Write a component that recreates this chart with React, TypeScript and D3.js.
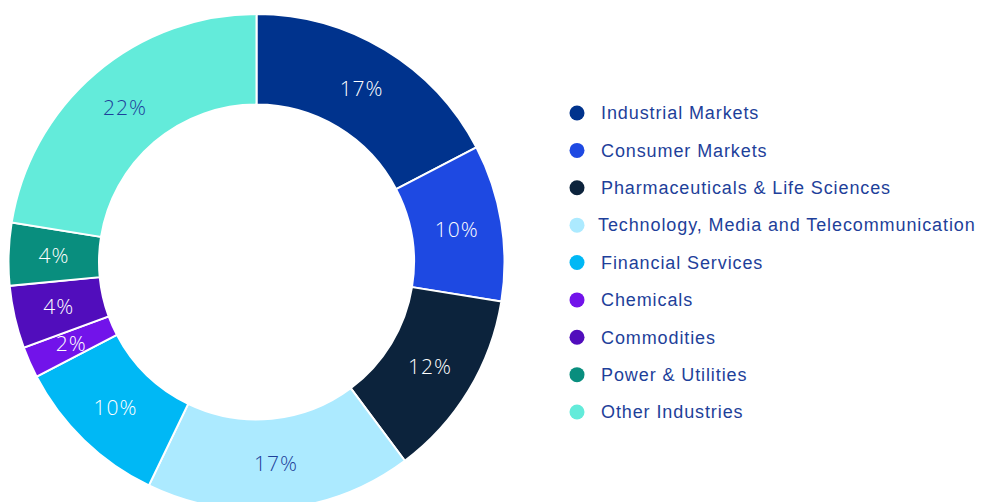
import React from "react";
import * as d3 from "d3";

const categories = [
  "Industrial Markets",
  "Consumer Markets",
  "Pharmaceuticals & Life Sciences",
  "Technology, Media and Telecommunication",
  "Financial Services",
  "Chemicals",
  "Commodities",
  "Power & Utilities",
  "Other Industries",
];
const values = [17, 10, 12, 17, 10, 2, 4, 4, 22];
const colors = ["#00338D", "#1E49E2", "#0C233C", "#ACEAFF", "#00B8F5", "#7213EA", "#510DBC", "#098E7E", "#63EBDA"];
const labelColors = ["#fff", "#fff", "#fff", "#1E3F9A", "#fff", "#fff", "#fff", "#fff", "#1E3F9A"];

const W = 992, H = 502;
const cx = 256.5, cy = 262;
const rOuter = 248, rInner = 157.5;
const LABEL_FONT = "'Open Sans', 'Liberation Sans', Arial, sans-serif";
const LEGEND_FONT = "'Liberation Sans', Arial, sans-serif";

export default function App() {
  const pie = d3.pie<number>().value((d) => d).sort(null);
  const arcs = pie(values);
  const arc = d3.arc<d3.PieArcDatum<number>>().innerRadius(rInner).outerRadius(rOuter);
  const legendY = d3.scaleLinear().domain([0, categories.length - 1]).range([113, 412]);
  return (
    <svg width={W} height={H} style={{ position: "absolute", left: 0, top: 0, background: "#fff" }}>
      <g transform={`translate(${cx},${cy})`}>
        {arcs.map((a, i) => (
          <path key={i} d={arc(a) || ""} fill={colors[i]} stroke="#fff" strokeWidth={2} />
        ))}
        {arcs.map((a, i) => {
          const [x, y] = arc.centroid(a);
          return (
            <text key={"t" + i} x={x} y={y} dy="0.35em" textAnchor="middle" fill={labelColors[i]}
              fontFamily={LABEL_FONT} fontSize={21} fontWeight={300} letterSpacing={1}>
              {values[i]}%
            </text>
          );
        })}
      </g>
      {categories.map((c, i) => (
        <g key={"l" + i} transform={`translate(0,${legendY(i)})`}>
          <circle cx={577} cy={0} r={7.5} fill={colors[i]} />
          <text x={i === 3 ? 598 : 601} y={0} dy="0.35em" fill="#1E3F9A" fontFamily={LEGEND_FONT}
            fontSize={18} letterSpacing={0.9}>
            {c}
          </text>
        </g>
      ))}
    </svg>
  );
}
